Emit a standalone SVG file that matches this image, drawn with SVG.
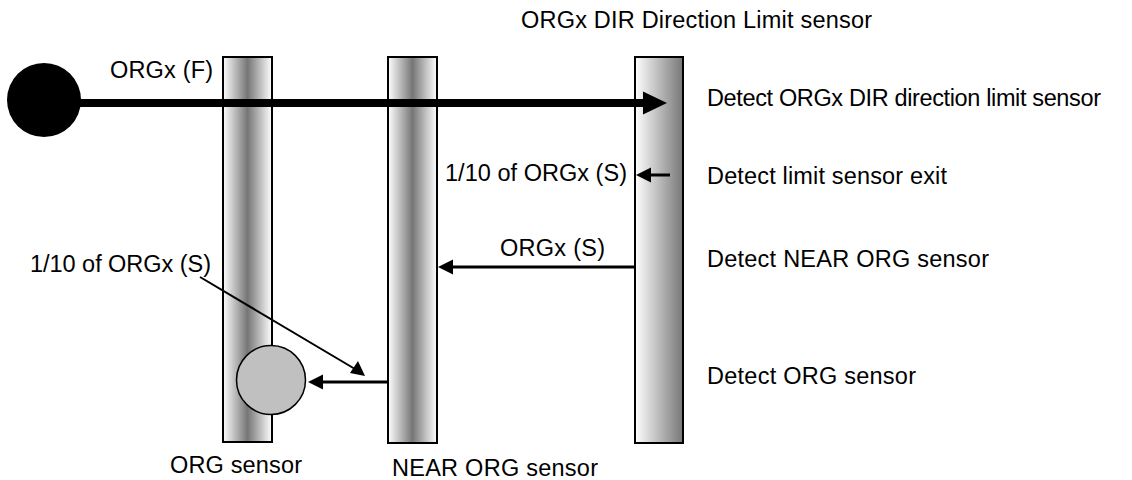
<svg xmlns="http://www.w3.org/2000/svg" width="1132" height="480" viewBox="0 0 1132 480">
<style>
text{font-family:"Liberation Sans",Arial,sans-serif;font-size:23.5px;fill:#000}
.bar{stroke:#000;stroke-width:2}
.ln{stroke:#000;fill:none}
</style>
<defs>
<linearGradient id="gc" x1="0" y1="0" x2="1" y2="0">
<stop offset="0" stop-color="#ffffff"/>
<stop offset="0.5" stop-color="#767676"/>
<stop offset="1" stop-color="#ffffff"/>
</linearGradient>
<linearGradient id="gr" x1="0" y1="0" x2="1" y2="0">
<stop offset="0" stop-color="#ffffff"/>
<stop offset="1" stop-color="#777777"/>
</linearGradient>
</defs>
<rect width="1132" height="480" fill="#fff"/>
<g id="org-sensor">
<rect class="bar" x="223" y="57" width="49" height="385" fill="url(#gc)"/>
<text x="170" y="473" textLength="132">ORG sensor</text>
</g>
<g id="near-org-sensor">
<rect class="bar" x="388" y="57" width="49" height="386" fill="url(#gc)"/>
<text x="392" y="476" textLength="206">NEAR ORG sensor</text>
</g>
<g id="limit-sensor">
<rect class="bar" x="635" y="57" width="48" height="386" fill="url(#gr)"/>
<text x="521" y="28" textLength="351">ORGx DIR Direction Limit sensor</text>
</g>
<g id="start">
<circle cx="44" cy="100" r="37" fill="#000"/>
</g>
<g id="org-target">
<circle cx="271" cy="380" r="34.5" fill="#c0c0c0" stroke="#000" stroke-width="1.5"/>
</g>
<g id="connectors">
<line class="ln" x1="44" y1="103" x2="645" y2="103" stroke-width="8"/>
<polygon points="643,91.5 667,103 643,114.5" fill="#000"/>
<line class="ln" x1="670" y1="175" x2="648" y2="175" stroke-width="3"/>
<polygon points="651,167.5 636,175 651,182.5" fill="#000"/>
<line class="ln" x1="635" y1="267" x2="450" y2="267" stroke-width="3"/>
<polygon points="453,259.5 438,267 453,274.5" fill="#000"/>
<line class="ln" x1="388" y1="382" x2="320" y2="382" stroke-width="3"/>
<polygon points="323,374.5 308,382 323,389.5" fill="#000"/>
<line class="ln" x1="200" y1="277" x2="355" y2="369" stroke-width="2"/>
<polygon points="350,373 365,376 358,361" fill="#000"/>
</g>
<g id="labels">
<text x="110" y="78" textLength="103">ORGx (F)</text>
<text x="445" y="181" textLength="182">1/10 of ORGx (S)</text>
<text x="500" y="256" textLength="105">ORGx (S)</text>
<text x="30" y="272" textLength="181">1/10 of ORGx (S)</text>
<text x="707" y="106" textLength="394">Detect ORGx DIR direction limit sensor</text>
<text x="707" y="184" textLength="240">Detect limit sensor exit</text>
<text x="707" y="267" textLength="282">Detect NEAR ORG sensor</text>
<text x="707" y="384" textLength="209">Detect ORG sensor</text>
</g>
</svg>
